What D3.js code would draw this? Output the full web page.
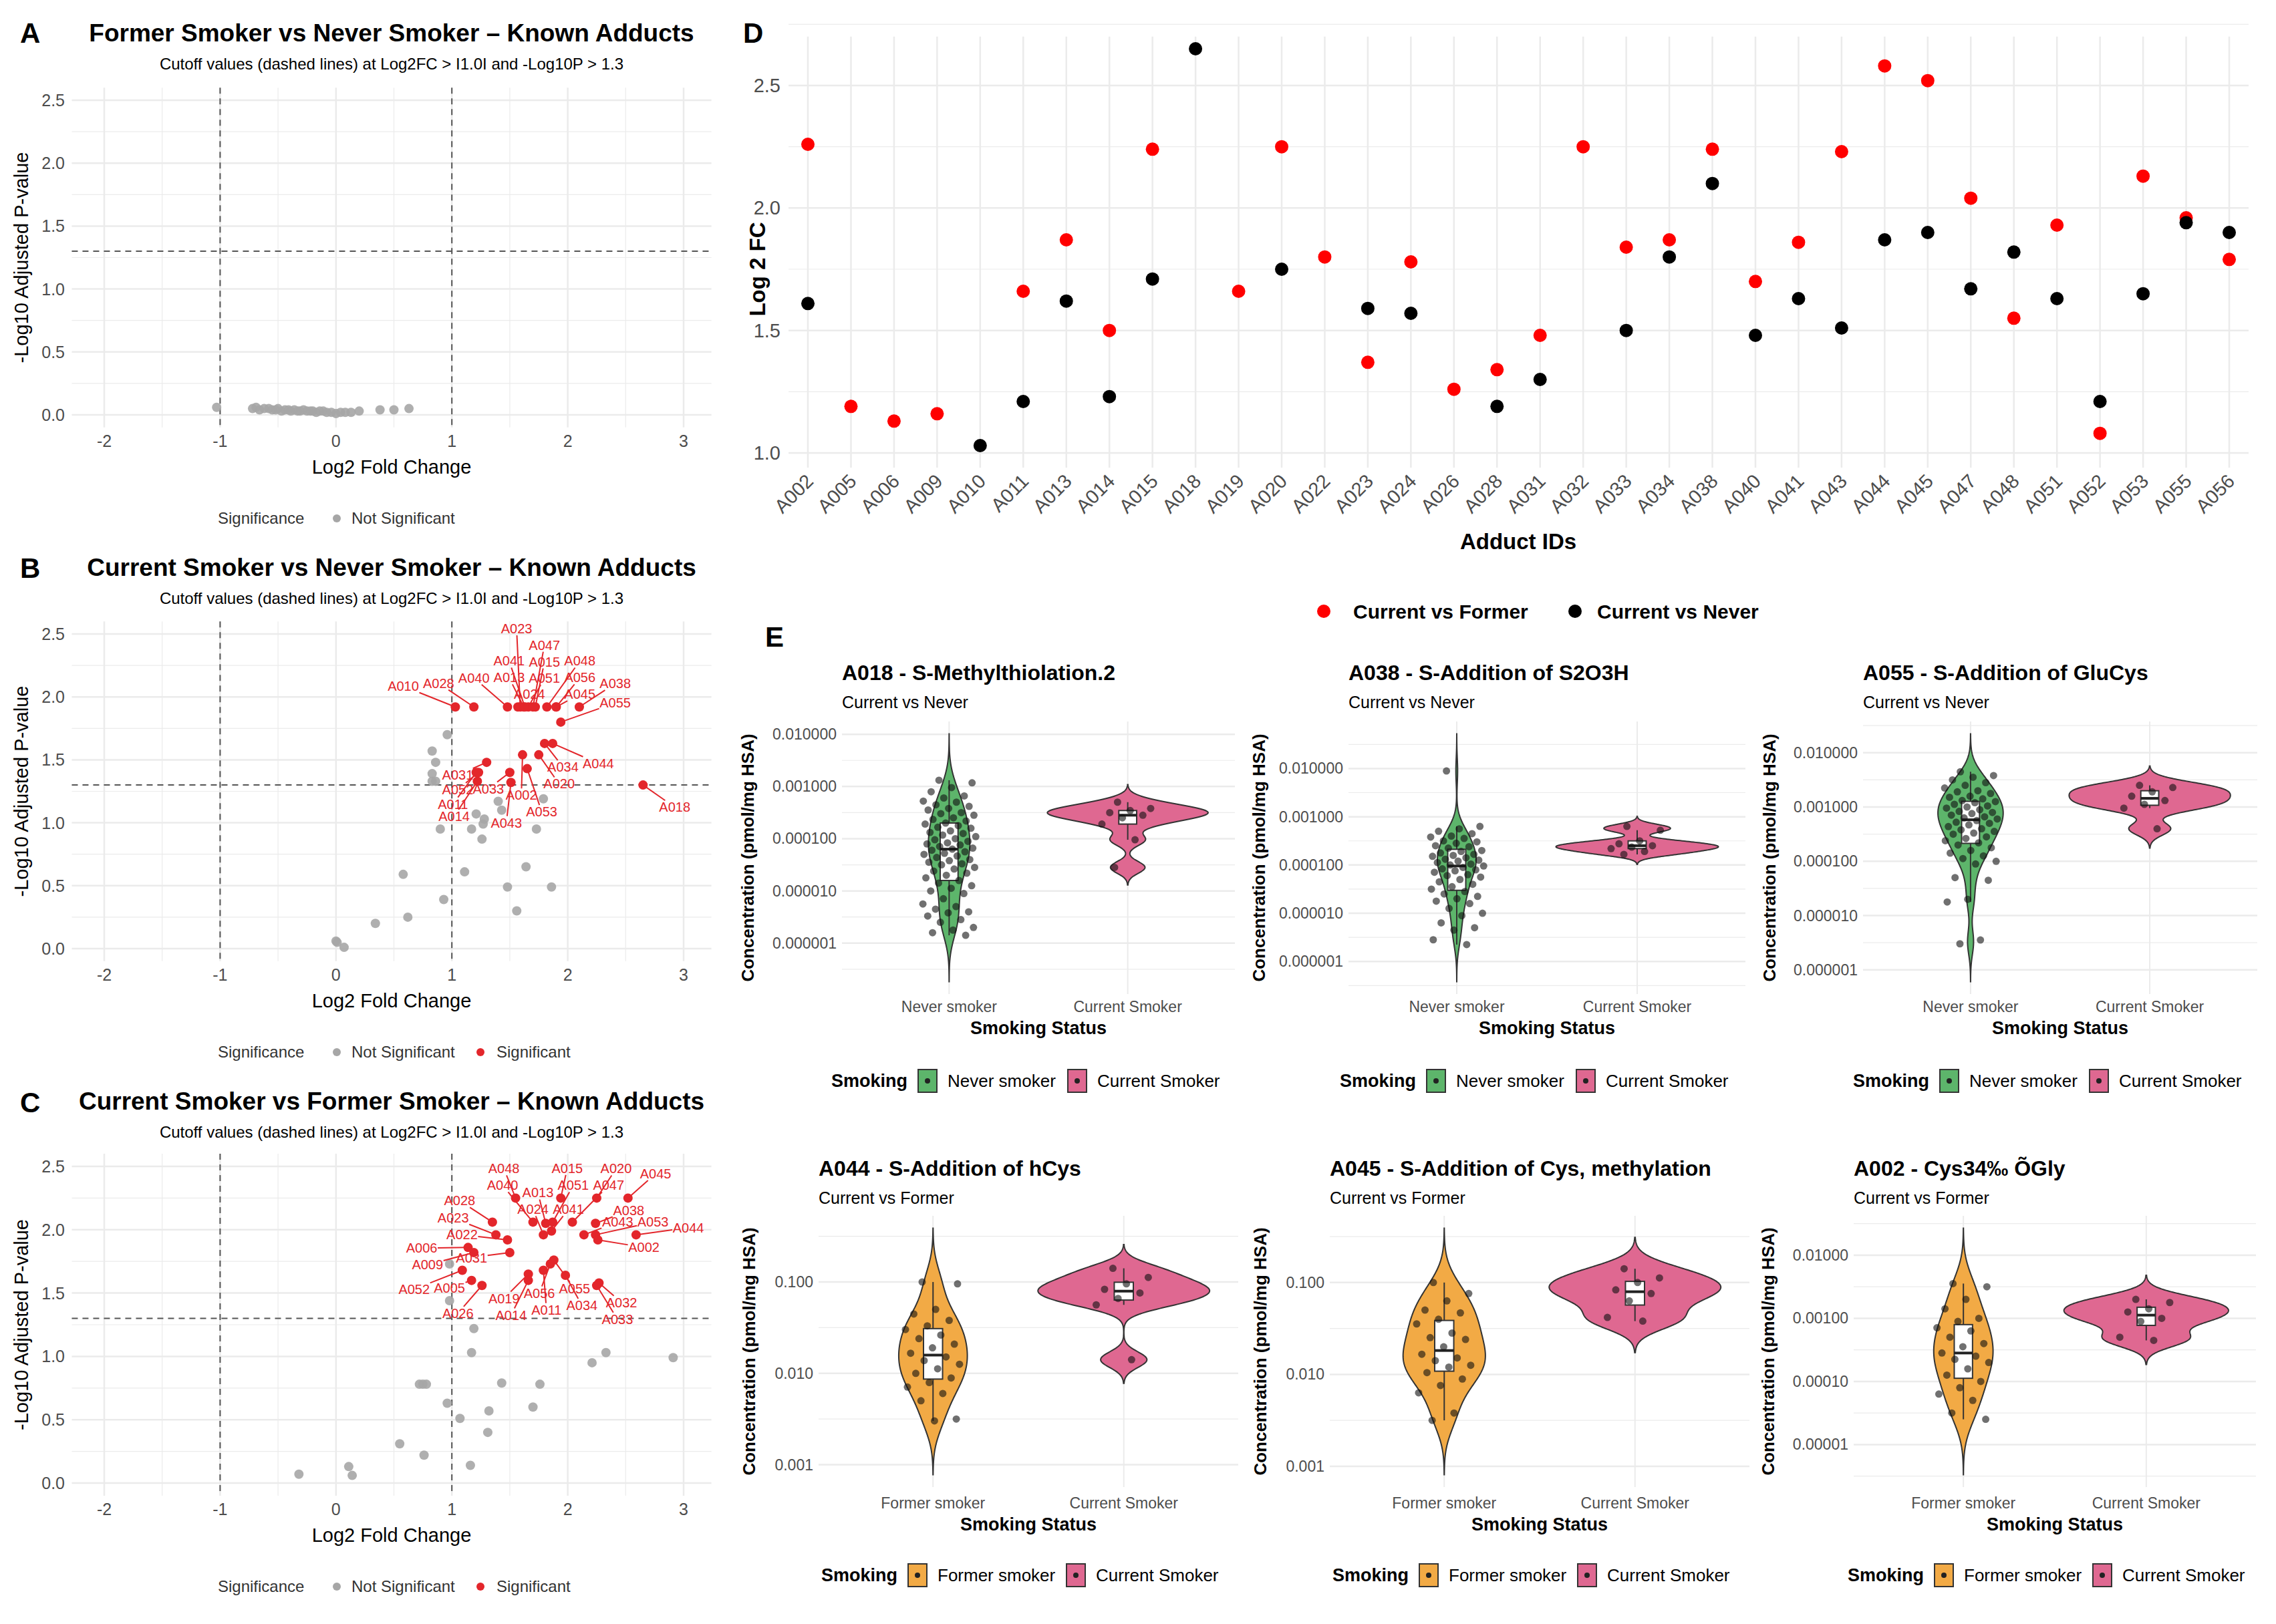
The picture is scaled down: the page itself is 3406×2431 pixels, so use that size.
<!DOCTYPE html>
<html>
<head>
<meta charset="utf-8" />
<style>
  body { margin: 0; background: #fff; }
  text { font-family: "Liberation Sans", Arial, sans-serif; }
</style>
<script src="https://d3js.org/d3.v7.min.js"></script>
</head>
<body>
<svg id="fig"></svg>
<script>

/* ---------- data: volcano panels ---------- */
let aFc = [-1.03,-0.72,-0.69,-0.66,-0.62,-0.58,-0.55,-0.52,-0.5,-0.47,-0.44,-0.41,-0.39,-0.36,-0.33,-0.31,-0.28,-0.25,-0.22,-0.2,-0.17,-0.14,-0.11,-0.08,-0.04,0.0,0.04,0.08,0.13,0.2,0.38,0.5,0.63];
let aP  = [0.06,0.05,0.06,0.04,0.05,0.05,0.04,0.04,0.05,0.03,0.04,0.04,0.03,0.04,0.03,0.03,0.04,0.03,0.03,0.03,0.02,0.03,0.03,0.02,0.02,0.01,0.02,0.02,0.02,0.03,0.04,0.04,0.05];

let bNsFc = [0.0,0.01,0.07,0.34,0.62,0.58,0.93,0.9,1.11,1.17,1.21,1.26,1.27,1.28,1.4,1.43,1.48,1.56,1.64,1.73,1.79,1.86,0.83,0.86,0.83,0.83,0.86,0.96];
let bNsP  = [0.06,0.05,0.01,0.2,0.25,0.59,0.39,0.95,0.61,0.95,1.07,0.87,0.99,1.03,1.17,1.1,0.49,0.3,0.65,0.95,1.19,0.49,1.57,1.48,1.39,1.33,1.33,1.7];
let bSigIds = ["A010","A028","A014","A011","A031","A052","A033","A040","A043","A024","A023","A013","A002","A041","A051","A053","A047","A015","A020","A034","A048","A044","A045","A056","A055","A038","A018"];
let bSigFc  = [1.03,1.19,1.22,1.21,1.3,1.23,1.5,1.48,1.51,1.57,1.59,1.62,1.61,1.63,1.66,1.65,1.7,1.72,1.75,1.8,1.82,1.87,1.9,1.9,1.94,2.1,2.65];
let bSigP   = [1.92,1.92,1.33,1.4,1.48,1.4,1.4,1.92,1.32,1.92,1.92,1.92,1.54,1.92,1.92,1.43,1.92,1.92,1.54,1.63,1.92,1.63,1.92,1.92,1.8,1.92,1.3];

let cNsFc = [-0.32,0.11,0.14,0.55,0.76,0.72,0.75,0.78,0.96,1.07,1.16,1.17,1.19,1.31,1.32,1.43,1.7,1.76,2.21,2.33,2.91,0.98,0.98];
let cNsP  = [0.07,0.13,0.06,0.31,0.22,0.78,0.78,0.78,0.63,0.51,0.14,1.03,1.22,0.4,0.57,0.79,0.6,0.78,0.95,1.03,0.99,1.73,1.44];
let cSigIds = ["A048","A015","A020","A045","A028","A040","A013","A051","A047","A038","A023","A022","A024","A041","A043","A053","A002","A044","A006","A009","A031","A052","A005","A026","A019","A014","A011","A056","A055","A034","A033","A032"];
let cSigFc  = [1.55,1.94,2.25,2.52,1.35,1.7,1.81,1.87,2.04,2.24,1.38,1.48,1.79,1.86,2.14,2.24,2.26,2.59,1.14,1.19,1.5,1.09,1.17,1.26,1.66,1.66,1.79,1.85,1.88,1.98,2.25,2.27];
let cSigP   = [2.25,2.25,2.25,2.25,2.06,2.06,2.05,2.06,2.06,2.05,1.96,1.92,1.96,1.99,1.96,1.96,1.92,1.96,1.86,1.82,1.82,1.68,1.6,1.56,1.65,1.6,1.68,1.73,1.76,1.64,1.56,1.58];

let volcXTicks = [-2,-1,0,1,2,3];
let volcYTicks = [0,0.5,1,1.5,2,2.5];

/* ---------- data: panel D ---------- */
let dIds    = ["A002","A005","A006","A009","A010","A011","A013","A014","A015","A018","A019","A020","A022","A023","A024","A026","A028","A031","A032","A033","A034","A038","A040","A041","A043","A044","A045","A047","A048","A051","A052","A053","A055","A056"];
let dFormer = [2.26,1.19,1.13,1.16,null,1.66,1.87,1.5,2.24,null,1.66,2.25,1.8,1.37,1.78,1.26,1.34,1.48,2.25,1.84,1.87,2.24,1.7,1.86,2.23,2.58,2.52,2.04,1.55,1.93,1.08,2.13,1.96,1.79];
let dNever  = [1.61,null,null,null,1.03,1.21,1.62,1.23,1.71,2.65,null,1.75,null,1.59,1.57,null,1.19,1.3,null,1.5,1.8,2.1,1.48,1.63,1.51,1.87,1.9,1.67,1.82,1.63,1.21,1.65,1.94,1.9];
let dYTicks = [1.0,1.5,2.0,2.5];

/* ---------- data: panel E (log10 concentration, pmol/mg HSA) ---------- */
let a018Never = [-2.88,-2.93,-3.02,-3.1,-3.18,-3.22,-3.28,-3.3,-3.35,-3.38,-3.42,-3.45,-3.5,-3.52,-3.55,-3.6,-3.63,-3.66,-3.7,-3.72,-3.75,-3.78,-3.8,-3.85,-3.88,-3.9,-3.93,-3.96,-4.0,-4.02,-4.05,-4.08,-4.1,-4.12,-4.15,-4.18,-4.2,-4.22,-4.25,-4.28,-4.3,-4.33,-4.36,-4.4,-4.42,-4.45,-4.48,-4.5,-4.55,-4.58,-4.62,-4.66,-4.7,-4.75,-4.8,-4.85,-4.9,-4.95,-5.0,-5.05,-5.15,-5.25,-5.3,-5.35,-5.4,-5.42,-5.48,-5.55,-5.6,-5.7,-5.75,-5.8,-5.85];
let a018Current = [-3.3,-3.42,-3.46,-3.5,-3.55,-3.6,-3.72,-4.02,-4.55];
let a038Never = [-2.05,-3.2,-3.25,-3.3,-3.35,-3.4,-3.42,-3.45,-3.5,-3.52,-3.55,-3.6,-3.62,-3.65,-3.7,-3.72,-3.75,-3.78,-3.8,-3.82,-3.85,-3.88,-3.9,-3.92,-3.95,-3.98,-4.0,-4.02,-4.05,-4.08,-4.1,-4.12,-4.15,-4.2,-4.22,-4.25,-4.3,-4.35,-4.4,-4.45,-4.5,-4.55,-4.6,-4.65,-4.7,-4.75,-4.8,-4.9,-5.0,-5.05,-5.2,-5.3,-5.35,-5.55,-5.65];
let a038Current = [-3.2,-3.28,-3.5,-3.56,-3.6,-3.63,-3.66,-3.72,-3.78];
let a055Never = [-2.35,-2.42,-2.45,-2.5,-2.55,-2.6,-2.65,-2.7,-2.72,-2.75,-2.8,-2.82,-2.85,-2.88,-2.9,-2.92,-2.95,-2.98,-3.0,-3.02,-3.05,-3.08,-3.1,-3.12,-3.15,-3.18,-3.2,-3.22,-3.25,-3.28,-3.3,-3.33,-3.36,-3.4,-3.42,-3.45,-3.48,-3.5,-3.55,-3.58,-3.62,-3.66,-3.7,-3.75,-3.8,-3.85,-3.9,-3.95,-4.0,-4.05,-4.3,-4.35,-4.7,-4.75,-5.45,-5.52];
let a055Current = [-2.6,-2.64,-2.72,-2.8,-2.88,-2.95,-3.02,-3.4];
let a044Former = [-1.0,-1.02,-1.3,-1.35,-1.42,-1.48,-1.52,-1.58,-1.62,-1.68,-1.72,-1.78,-1.82,-1.86,-1.9,-1.95,-2.0,-2.05,-2.1,-2.15,-2.22,-2.3,-2.5,-2.52];
let a044Current = [-0.85,-0.95,-1.02,-1.08,-1.12,-1.18,-1.25,-1.85];
let a045Former = [-1.0,-1.12,-1.2,-1.3,-1.33,-1.4,-1.45,-1.55,-1.6,-1.62,-1.7,-1.78,-1.82,-1.85,-1.9,-1.92,-1.98,-2.05,-2.12,-2.2,-2.42,-2.5];
let a045Current = [-0.85,-0.95,-1.0,-1.08,-1.12,-1.2,-1.38,-1.42];
let a002Former = [-2.45,-2.5,-2.7,-2.85,-3.0,-3.05,-3.15,-3.2,-3.3,-3.4,-3.45,-3.55,-3.6,-3.65,-3.7,-3.8,-3.9,-4.0,-4.1,-4.2,-4.3,-4.5,-4.6];
let a002Current = [-2.7,-2.75,-2.85,-2.9,-3.0,-3.05,-3.3,-3.35];

/* ---------- setup ---------- */
const W = 3406, H = 2431;
const GRID = "#EBEBEB", TICK = "#4D4D4D";
const RED = "#E3262B", GREY = "#A6A6A6";
const COL = { "Never smoker": "#5DB56B", "Current Smoker": "#DF6891", "Former smoker": "#F2AA45" };

let svg = d3.select("#fig").attr("width", W).attr("height", H);
svg.append("rect").attr("width", W).attr("height", H).attr("fill", "#fff");

function letter(t, x, y) {
  svg.append("text").attr("x", x).attr("y", y).attr("font-size", 42)
    .attr("font-weight", "bold").text(t);
}

/* ---------- volcano ---------- */
// crude ggrepel: push label boxes apart and off the points
function repel(labels, points, box) {
  let cx = d3.mean(labels, l => l.ax), cy = d3.mean(labels, l => l.ay);
  labels.forEach(l => {
    let dx = l.ax - cx, dy = (l.ay - cy) * 2.5, d = Math.hypot(dx, dy) || 1;
    l.hx = l.ax + dx / d * 70; l.hy = l.ay + dy / d * 45;
    l.x = l.hx; l.y = l.hy;
  });
  for (let it = 0; it < 2500; it++) {
    for (let i = 0; i < labels.length; i++) {
      let a = labels[i];
      for (let j = i + 1; j < labels.length; j++) {
        let b = labels[j];
        let dx = b.x - a.x, dy = b.y - a.y;
        let ox = (a.w + b.w) / 2 + 5 - Math.abs(dx), oy = (a.h + b.h) / 2 + 5 - Math.abs(dy);
        if (ox > 0 && oy > 0) {
          if (ox < oy * 1.8) { let s = (dx >= 0 ? 1 : -1) * ox / 2; a.x -= s; b.x += s; }
          else { let s = (dy >= 0 ? 1 : -1) * oy / 2; a.y -= s; b.y += s; }
        }
      }
      points.forEach(p => {
        let dx = a.x - p.x, dy = a.y - p.y;
        let ox = a.w / 2 + 9 - Math.abs(dx), oy = a.h / 2 + 9 - Math.abs(dy);
        if (ox > 0 && oy > 0) {
          if (ox < oy) a.x += (dx >= 0 ? 1 : -1) * ox;
          else a.y += (dy >= 0 ? 1 : -1) * oy;
        }
      });
      a.x += (a.hx - a.x) * 0.003;
      a.y += (a.hy - a.y) * 0.003;
      a.x = Math.max(box[0] + a.w / 2, Math.min(box[1] - a.w / 2, a.x));
      a.y = Math.max(box[2] + a.h / 2, Math.min(box[3] - a.h / 2, a.y));
    }
  }
}

function volcano(cfg) {
  let x = d3.scaleLinear().domain([-2, 3]).range([156, 1023]);
  let y = d3.scaleLinear().domain([0, 2.5]).range([cfg.y0, cfg.y25]);
  let g = svg.append("g");
  let xl = x(-2.28), xr = x(3.24), yt = y(2.6), yb = y(-0.1);
  d3.range(-2, 3.01, 0.5).forEach(v => g.append("line").attr("x1", x(v)).attr("x2", x(v)).attr("y1", yt).attr("y2", yb)
    .attr("stroke", GRID).attr("stroke-width", Number.isInteger(v) ? 2.5 : 1.2));
  d3.range(0, 2.51, 0.25).forEach(v => g.append("line").attr("x1", xl).attr("x2", xr).attr("y1", y(v)).attr("y2", y(v))
    .attr("stroke", GRID).attr("stroke-width", v * 2 === Math.round(v * 2) ? 2.5 : 1.2));
  [-1, 1].forEach(v => g.append("line").attr("x1", x(v)).attr("x2", x(v)).attr("y1", yt).attr("y2", yb)
    .attr("stroke", "#555").attr("stroke-width", 2).attr("stroke-dasharray", "9,7"));
  g.append("line").attr("x1", xl).attr("x2", xr).attr("y1", y(1.3)).attr("y2", y(1.3))
    .attr("stroke", "#555").attr("stroke-width", 2).attr("stroke-dasharray", "9,7");
  volcXTicks.forEach(v => g.append("text").attr("x", x(v)).attr("y", cfg.y0 + 48).attr("text-anchor", "middle")
    .attr("font-size", 25).attr("fill", TICK).text(v));
  volcYTicks.forEach(v => g.append("text").attr("x", 97).attr("y", y(v) + 9).attr("text-anchor", "end")
    .attr("font-size", 25).attr("fill", TICK).text(d3.format(".1f")(v)));
  g.append("text").attr("x", 586).attr("y", cfg.y0 + 88).attr("text-anchor", "middle").attr("font-size", 29).text("Log2 Fold Change");
  g.append("text").attr("transform", `translate(42,${(cfg.y0 + cfg.y25) / 2}) rotate(-90)`).attr("text-anchor", "middle")
    .attr("font-size", 29).text("-Log10 Adjusted P-value");
  g.append("text").attr("x", 586).attr("y", cfg.titleY).attr("text-anchor", "middle").attr("font-size", 37)
    .attr("font-weight", "bold").text(cfg.title);
  g.append("text").attr("x", 586).attr("y", cfg.titleY + 42).attr("text-anchor", "middle").attr("font-size", 24)
    .text("Cutoff values (dashed lines) at Log2FC > I1.0I and -Log10P > 1.3");
  cfg.nsFc.forEach((v, i) => g.append("circle").attr("cx", x(v)).attr("cy", y(cfg.nsP[i])).attr("r", 7).attr("fill", GREY).attr("opacity", 0.9));
  if (cfg.sigIds) {
    let pts = cfg.sigIds.map((id, i) => ({ id, x: x(cfg.sigFc[i]), y: y(cfg.sigP[i]) }));
    let allPts = pts.concat(cfg.nsFc.map((v, i) => ({ x: x(v), y: y(cfg.nsP[i]) })));
    let labels = pts.map(p => ({ id: p.id, ax: p.x, ay: p.y, w: 48, h: 20 }));
    repel(labels, allPts, [xl, xr, yt, yb]);
    let lg = g.append("g"), tg = g.append("g");
    labels.forEach(l => {
      let d = Math.hypot(l.x - l.ax, l.y - l.ay);
      if (d > 26) {
        let dx = l.ax - l.x, dy = l.ay - l.y;
        let t = Math.min(Math.abs((l.w / 2) / (dx || 1e-6)), Math.abs((l.h / 2) / (dy || 1e-6)));
        lg.append("line").attr("x1", l.ax).attr("y1", l.ay).attr("x2", l.x + dx * t).attr("y2", l.y + dy * t)
          .attr("stroke", RED).attr("stroke-width", 2);
      }
      tg.append("text").attr("x", l.x).attr("y", l.y + 7).attr("text-anchor", "middle").attr("font-size", 20)
        .attr("fill", RED).text(l.id);
    });
    pts.forEach(p => lg.append("circle").attr("cx", p.x).attr("cy", p.y).attr("r", 7).attr("fill", RED));
  }
  let ly = cfg.y0 + 155;
  g.append("text").attr("x", 326).attr("y", ly + 8).attr("font-size", 24).attr("fill", "#333").text("Significance");
  g.append("circle").attr("cx", 504).attr("cy", ly).attr("r", 6).attr("fill", GREY);
  g.append("text").attr("x", 526).attr("y", ly + 8).attr("font-size", 24).attr("fill", "#333").text("Not Significant");
  if (cfg.sigIds) {
    g.append("circle").attr("cx", 719).attr("cy", ly).attr("r", 6).attr("fill", RED);
    g.append("text").attr("x", 743).attr("y", ly + 8).attr("font-size", 24).attr("fill", "#333").text("Significant");
  }
}

volcano({ title: "Former Smoker vs Never Smoker – Known Adducts", titleY: 62, y0: 621, y25: 150, nsFc: aFc, nsP: aP });
volcano({ title: "Current Smoker vs Never Smoker – Known Adducts", titleY: 862, y0: 1420, y25: 949,
  nsFc: bNsFc, nsP: bNsP, sigIds: bSigIds, sigFc: bSigFc, sigP: bSigP });
volcano({ title: "Current Smoker vs Former Smoker – Known Adducts", titleY: 1661, y0: 2220, y25: 1746,
  nsFc: cNsFc, nsP: cNsP, sigIds: cSigIds, sigFc: cSigFc, sigP: cSigP });
letter("A", 30, 64); letter("B", 30, 865); letter("C", 30, 1665);

/* ---------- panel D ---------- */
{
  let g = svg.append("g");
  let x = d3.scalePoint().domain(dIds).range([1180, 3365]).padding(0.45);
  let y = d3.scaleLinear().domain([1.0, 2.5]).range([678, 128]);
  let yt = y(2.7), yb = y(0.94);
  dIds.forEach(id => g.append("line").attr("x1", x(id)).attr("x2", x(id)).attr("y1", yt).attr("y2", yb).attr("stroke", GRID).attr("stroke-width", 2.5));
  d3.range(1.0, 2.76, 0.25).forEach(v => g.append("line").attr("x1", 1180).attr("x2", 3365).attr("y1", y(v)).attr("y2", y(v))
    .attr("stroke", GRID).attr("stroke-width", Math.abs(v * 2 - Math.round(v * 2)) < 1e-6 ? 2.5 : 1.2));
  dYTicks.forEach(v => g.append("text").attr("x", 1168).attr("y", y(v) + 10).attr("text-anchor", "end").attr("font-size", 29)
    .attr("fill", TICK).text(d3.format(".1f")(v)));
  dIds.forEach(id => g.append("text").attr("transform", `translate(${x(id) + 10},${yb + 22}) rotate(-45)`).attr("text-anchor", "end")
    .attr("font-size", 29).attr("fill", TICK).text(id));
  g.append("text").attr("x", 2272).attr("y", 822).attr("text-anchor", "middle").attr("font-size", 33).attr("font-weight", "bold").text("Adduct IDs");
  g.append("text").attr("transform", `translate(1145,${(y(1) + y(2.5)) / 2}) rotate(-90)`).attr("text-anchor", "middle")
    .attr("font-size", 33).attr("font-weight", "bold").text("Log 2 FC");
  dIds.forEach((id, i) => {
    if (dFormer[i] != null) g.append("circle").attr("cx", x(id)).attr("cy", y(dFormer[i])).attr("r", 10).attr("fill", "#FF0000");
  });
  dIds.forEach((id, i) => {
    if (dNever[i] != null) g.append("circle").attr("cx", x(id)).attr("cy", y(dNever[i])).attr("r", 10).attr("fill", "#000");
  });
  g.append("circle").attr("cx", 1981).attr("cy", 915).attr("r", 10).attr("fill", "#FF0000");
  g.append("text").attr("x", 2025).attr("y", 926).attr("font-size", 30).attr("font-weight", "bold").text("Current vs Former");
  g.append("circle").attr("cx", 2357).attr("cy", 915).attr("r", 10).attr("fill", "#000");
  g.append("text").attr("x", 2390).attr("y", 926).attr("font-size", 30).attr("font-weight", "bold").text("Current vs Never");
  letter("D", 1112, 64);
}

/* ---------- panel E ---------- */
function kde(vals) {
  let s = vals.slice().sort(d3.ascending), n = s.length;
  let iqr = d3.quantile(s, 0.75) - d3.quantile(s, 0.25);
  let bw = 0.9 * Math.min(d3.deviation(s), iqr / 1.34) * Math.pow(n, -0.2);
  let lo = s[0] - 3 * bw, hi = s[n - 1] + 3 * bw;
  let pts = d3.range(0, 201).map(k => {
    let t = lo + (hi - lo) * k / 200;
    let d = d3.sum(s, v => Math.exp(-0.5 * ((t - v) / bw) ** 2)) / (n * bw * Math.sqrt(2 * Math.PI));
    return [t, d];
  });
  return { lo, hi, pts };
}

let eRow1 = { t: 1080, b: 1488, titleY: 1018, subY: 1060, tickY: 1515, xtY: 1548, legY: 1618 };
let eRow2 = { t: 1820, b: 2226, titleY: 1760, subY: 1802, tickY: 2258, xtY: 2291, legY: 2358 };
let ePanels = [
  { title: "A018 - S-Methylthiolation.2", sub: "Current vs Never", l: 1260, r: 1848, row: eRow1, yTitleX: 1128, dec: 6,
    groups: [["Never smoker", a018Never], ["Current Smoker", a018Current]] },
  { title: "A038 - S-Addition of S2O3H", sub: "Current vs Never", l: 2018, r: 2612, row: eRow1, yTitleX: 1893, dec: 6,
    groups: [["Never smoker", a038Never], ["Current Smoker", a038Current]] },
  { title: "A055 - S-Addition of GluCys", sub: "Current vs Never", l: 2788, r: 3378, row: eRow1, yTitleX: 2657, dec: 6,
    groups: [["Never smoker", a055Never], ["Current Smoker", a055Current]] },
  { title: "A044 - S-Addition of hCys", sub: "Current vs Former", l: 1225, r: 1853, row: eRow2, yTitleX: 1130, dec: 3,
    groups: [["Former smoker", a044Former], ["Current Smoker", a044Current]] },
  { title: "A045 - S-Addition of Cys, methylation", sub: "Current vs Former", l: 1990, r: 2618, row: eRow2, yTitleX: 1895, dec: 3,
    groups: [["Former smoker", a045Former], ["Current Smoker", a045Current]] },
  { title: "A002 - Cys34‰ ÕGly", sub: "Current vs Former", l: 2774, r: 3376, row: eRow2, yTitleX: 2655, dec: 5,
    groups: [["Former smoker", a002Former], ["Current Smoker", a002Current]] }
];

function jit(i) { let f = (i * 0.6180339887 + 0.31) % 1; return f - 0.5; }

ePanels.forEach(p => {
  let g = svg.append("g");
  let R = p.row;
  let dens = p.groups.map(gr => kde(gr[1]));
  let lo = d3.min(dens, d => d.lo), hi = d3.max(dens, d => d.hi);
  let pad = (hi - lo) * 0.05;
  let y = d3.scaleLinear().domain([lo - pad, hi + pad]).range([R.b, R.t]);
  let unit = (p.r - p.l) / 2.2;
  let cx = k => p.l + unit * (0.6 + k);
  for (let v = Math.ceil((lo - pad) * 2) / 2; v <= hi + pad; v += 0.5) {
    let major = Math.abs(v - Math.round(v)) < 1e-6;
    g.append("line").attr("x1", p.l).attr("x2", p.r).attr("y1", y(v)).attr("y2", y(v)).attr("stroke", GRID).attr("stroke-width", major ? 2.5 : 1.2);
    if (major) g.append("text").attr("x", p.l - 8).attr("y", y(v) + 8).attr("text-anchor", "end").attr("font-size", 23)
      .attr("fill", TICK).text(Math.pow(10, v).toFixed(p.dec));
  }
  p.groups.forEach((gr, k) => g.append("line").attr("x1", cx(k)).attr("x2", cx(k)).attr("y1", R.t).attr("y2", R.b).attr("stroke", GRID).attr("stroke-width", 2));
  let maxD = d3.max(dens, d => d3.max(d.pts, q => q[1]));
  p.groups.forEach((gr, k) => {
    let c = cx(k), d = dens[k];
    let area = d3.area().curve(d3.curveLinear)
      .y(q => y(q[0])).x0(q => c - q[1] / maxD * 0.45 * unit).x1(q => c + q[1] / maxD * 0.45 * unit);
    g.append("path").attr("d", area(d.pts)).attr("fill", COL[gr[0]]).attr("stroke", "#333").attr("stroke-width", 2);
    let s = gr[1].slice().sort(d3.ascending);
    let q1 = d3.quantile(s, 0.25), q2 = d3.quantile(s, 0.5), q3 = d3.quantile(s, 0.75);
    let wlo = d3.min(s.filter(v => v >= q1 - 1.5 * (q3 - q1))), whi = d3.max(s.filter(v => v <= q3 + 1.5 * (q3 - q1)));
    let bw = 0.1 * unit;
    g.append("line").attr("x1", c).attr("x2", c).attr("y1", y(whi)).attr("y2", y(wlo)).attr("stroke", "#333").attr("stroke-width", 2);
    g.append("rect").attr("x", c - bw / 2).attr("width", bw).attr("y", y(q3)).attr("height", y(q1) - y(q3))
      .attr("fill", "#fff").attr("stroke", "#333").attr("stroke-width", 2);
    g.append("line").attr("x1", c - bw / 2).attr("x2", c + bw / 2).attr("y1", y(q2)).attr("y2", y(q2)).attr("stroke", "#222").attr("stroke-width", 4);
    gr[1].forEach((v, i) => g.append("circle").attr("cx", c + jit(i) * 0.3 * unit).attr("cy", y(v)).attr("r", 5.5)
      .attr("fill", "#111").attr("opacity", 0.6));
    g.append("text").attr("x", c).attr("y", R.tickY).attr("text-anchor", "middle").attr("font-size", 23).attr("fill", TICK).text(gr[0]);
  });
  g.append("text").attr("x", p.l).attr("y", R.titleY).attr("font-size", 32).attr("font-weight", "bold").text(p.title);
  g.append("text").attr("x", p.l).attr("y", R.subY).attr("font-size", 25).text(p.sub);
  g.append("text").attr("x", (p.l + p.r) / 2).attr("y", R.xtY).attr("text-anchor", "middle").attr("font-size", 27).attr("font-weight", "bold").text("Smoking Status");
  g.append("text").attr("transform", `translate(${p.yTitleX},${(R.t + R.b) / 2}) rotate(-90)`).attr("text-anchor", "middle")
    .attr("font-size", 26).attr("font-weight", "bold").text("Concentration (pmol/mg HSA)");
  let lx = (p.l + p.r) / 2 - 310;
  let lg = g.append("g").attr("transform", `translate(${lx},${R.legY})`);
  lg.append("text").attr("x", 0).attr("y", 9).attr("font-size", 27).attr("font-weight", "bold").text("Smoking");
  let off = 130;
  p.groups.forEach(gr => {
    lg.append("rect").attr("x", off).attr("y", -17).attr("width", 28).attr("height", 34).attr("fill", COL[gr[0]]).attr("stroke", "#333").attr("stroke-width", 2);
    lg.append("circle").attr("cx", off + 14).attr("cy", 0).attr("r", 4).attr("fill", "#222");
    lg.append("text").attr("x", off + 44).attr("y", 9).attr("font-size", 26).text(gr[0]);
    off += 44 + gr[0].length * 13 + 24;
  });
});
letter("E", 1145, 968);

</script>
</body>
</html>
